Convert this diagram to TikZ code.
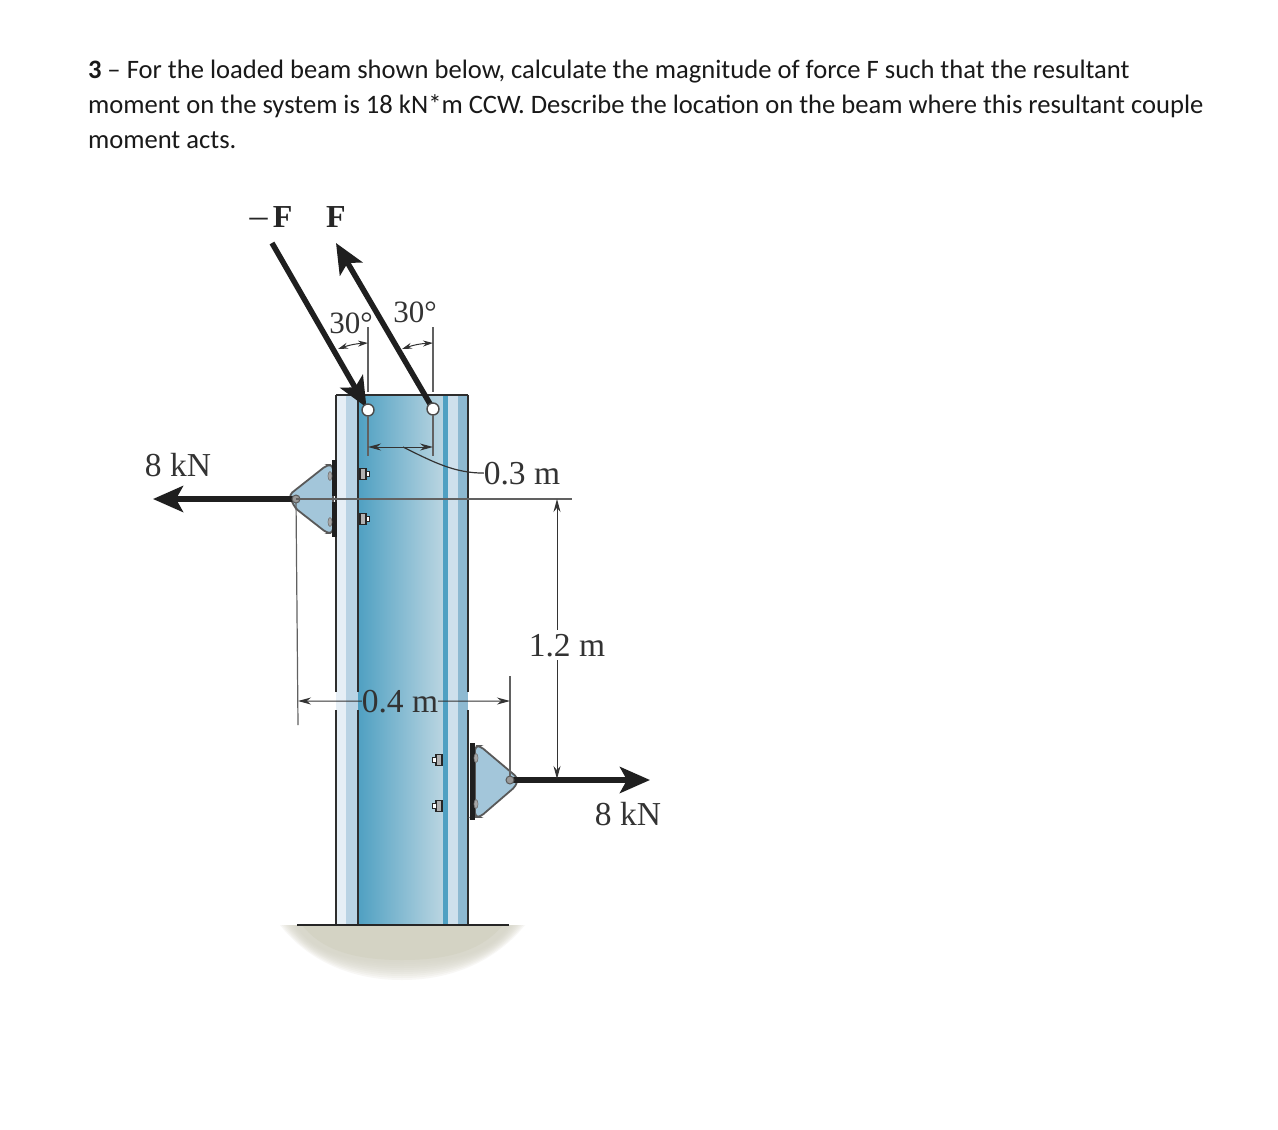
\documentclass[tikz,border=0pt]{standalone}
\usepackage{fontspec}
\setmainfont{Carlito}
\newfontfamily\figfont{Liberation Serif}
\usetikzlibrary{
	positioning,
	shapes.geometric,
	arrows.meta
}
\definecolor{beamdark}{HTML}{4FA0C2}
\definecolor{beamlight}{HTML}{BAD5E1}
\definecolor{flangelight}{HTML}{E6EFF6}
\definecolor{flangemid}{HTML}{B9D3E4}
\definecolor{flangeright}{HTML}{8DB9D1}
\definecolor{lugfill}{HTML}{A3C6DA}
\definecolor{groundfill}{HTML}{D4D3C4}
\definecolor{dimline}{HTML}{333333}
\tikzset{
	x=1pt,
	y=-1pt,
	every node/.append style={
		inner sep=0pt,
		outer sep=0pt
	},
	question/.style={
		anchor=north west,
		align=left,
		text=black!90,
		font=\fontsize{26.6}{35}\selectfont
	},
	dimlabel/.style={
		text=black!80,
		font=\figfont\fontsize{33.5}{35}\selectfont
	},
	anglabel/.style={
		text=black!80,
		font=\figfont\fontsize{31}{31}\selectfont
	},
	forcelabel/.style={
		text=black!85,
		font=\figfont\bfseries\fontsize{32}{32}\selectfont
	},
	force/.style={
		line width=5.5pt,
		black!88,
		-{Stealth[length=30pt,width=26pt,inset=7pt]}
	},
	dim/.style={
		line width=1pt,
		dimline,
		-{Stealth[length=13pt,width=7pt]}
	},
	dimsmall/.style={
		line width=1pt,
		dimline,
		{Stealth[length=10pt,width=6pt]}-{Stealth[length=10pt,width=6pt]}
	},
	witness/.style={
		line width=1.2pt,
		black!62
	},
	outline/.style={
		line width=2.2pt,
		black!82
	},
	lug/.style={
		fill=lugfill,
		draw=black!65,
		line width=1.8pt,
		rounded corners=4pt
	},
	hole/.style={
		circle,
		minimum size=12pt,
		fill=white,
		draw=black!70,
		line width=1.4pt
	},
	pin/.style={
		circle,
		minimum size=8pt,
		fill=black!40,
		draw=black!65,
		line width=1pt
	},
	rivet/.style={
		ellipse,
		minimum width=4pt,
		minimum height=9pt,
		fill=black!35,
		draw=black!55,
		line width=0.6pt
	},
	bolthead/.style={
		rectangle,
		minimum width=6pt,
		minimum height=11pt,
		fill=black!30,
		draw=black!85,
		line width=1.4pt
	},
	bolttip/.style={
		rectangle,
		minimum width=3.5pt,
		minimum height=5pt,
		fill=white,
		draw=black!85,
		line width=1pt
	}
}

\begin{document}
\begin{tikzpicture}
		\useasboundingbox[fill=white] (0,0) rectangle (1278,1130);

		\node[question] (text) at (88,60) {\textbf{3} -- For the loaded beam shown below, calculate the magnitude of force F such that the resultant\\moment on the system is 18 kN*m CCW. Describe the location on the beam where this resultant couple\\moment acts.};

		\foreach \d in {1,0.9,...,0.05}{
			\fill[groundfill,opacity=.16] (298-18*\d,925) .. controls (312-8*\d,950+6*\d) and (345,960+20*\d) .. (402,960+20*\d) .. controls (459,960+20*\d) and (492+8*\d,950+6*\d) .. (507+18*\d,925) -- cycle;
		}
		\fill[groundfill] (302,925) .. controls (320,948) and (350,960) .. (402,960) .. controls (454,960) and (484,948) .. (503,925) -- cycle;

		\fill[flangelight] (336,395) rectangle (346,925);
		\fill[flangemid] (346,395) rectangle (358,925);
		\shade[left color=beamdark,right color=beamlight] (358,395) rectangle (443,925);
		\fill[beamdark] (443,395) rectangle (448,925);
		\fill[flangemid!70!white] (448,395) rectangle (458,925);
		\fill[flangeright] (458,395) rectangle (468,925);

		\draw[outline] (336,395) -- (468,395);
		\draw[outline] (336,395) -- (336,692) (336,710) -- (336,925);
		\draw[outline] (358,395) -- (358,692) (358,710) -- (358,925);
		\draw[outline] (468,395) -- (468,692) (468,710) -- (468,925);
		\draw[line width=2.6pt,black!85] (297,925) -- (509,925);

		\coordinate (lugL) at (296,499);
		\coordinate (lugR) at (510,780);
		\draw[lug] (333,465) -- (327,465) -- (289,495) -- (295,508) -- (327,533) -- (333,533) -- cycle;
		\draw[lug] (475,746) -- (480,746) -- (518,778) -- (516,786) -- (480,817) -- (475,817) -- cycle;
		\fill[black!88] (332,460) rectangle (337,496);
		\fill[black!88] (332,502) rectangle (337,537);
		\fill[black!88] (470,743) rectangle (474.5,820);

		\node[rivet] (rivetA) at (330,476) {};
		\node[rivet] (rivetB) at (330,522) {};
		\node[rivet] (rivetC) at (476,758) {};
		\node[rivet] (rivetD) at (476,804) {};

		\node[bolthead] (boltA) at (363,474) {};
		\node[bolttip,right=0pt of boltA] (tipA) {};
		\node[bolthead] (boltB) at (363,519) {};
		\node[bolttip,right=0pt of boltB] (tipB) {};
		\node[bolthead] (boltC) at (439,760) {};
		\node[bolttip,left=0pt of boltC] (tipC) {};
		\node[bolthead] (boltD) at (439,806) {};
		\node[bolttip,left=0pt of boltD] (tipD) {};

		\coordinate (holeLc) at (368,410);
		\coordinate (holeRc) at (433,409);
		\coordinate (tailL) at (272,243);
		\coordinate (tipF) at (336,243);
		\coordinate (endL) at (153,499);
		\coordinate (endR) at (650,780);

		\draw[force,shorten >=3pt] (tailL) -- (holeLc);
		\draw[force] (holeRc) -- (tipF);
		\draw[force] (lugL) -- (endL);
		\draw[force] (lugR) -- (endR);

		\node[hole] (holeL) at (holeLc) {};
		\node[hole] (holeR) at (holeRc) {};
		\node[pin] (pinL) at (lugL) {};
		\node[pin] (pinR) at (lugR) {};

		\node[forcelabel,anchor=base] (minusF) at (271,227) {{\mdseries\fontsize{36}{36}\selectfont –}\,F};
		\node[forcelabel,anchor=base] (plusF) at (336,227) {F};
		\node[anglabel,anchor=base] (angL) at (351,333) {30\textdegree};
		\node[anglabel,anchor=base] (angR) at (415,322) {30\textdegree};
		\node[dimlabel,anchor=base] (sideL) at (178,476) {8 kN};
		\node[dimlabel,anchor=base] (sideR) at (628,825) {8 kN};
		\node[dimlabel,anchor=base] (gap) at (522,484) {0.3 m};
		\node[dimlabel,anchor=base] (lever) at (567,656) {1.2 m};
		\node[dimlabel,anchor=base] (span) at (400,712) {0.4 m};

		\coordinate (angTopL) at (368,327);
		\coordinate (angBotL) at (368,392);
		\coordinate (angTopR) at (433,327);
		\coordinate (angBotR) at (433,392);
		\coordinate (angArrowL) at (338,349);
		\coordinate (angArrowLb) at (368,343);
		\coordinate (angArrowR) at (402,349);
		\coordinate (angArrowRb) at (433,343);
		\draw[witness] (angTopL) -- (angBotL);
		\draw[witness] (angTopR) -- (angBotR);
		\draw[dimsmall] (angArrowL) to[bend left=8] (angArrowLb);
		\draw[dimsmall] (angArrowR) to[bend left=8] (angArrowRb);

		\coordinate (gapL) at (368,447);
		\coordinate (gapR) at (433,447);
		\coordinate (gapMid) at (403,447);
		\draw[witness] (holeL) -- (368,456);
		\draw[witness] (holeR) -- (433,456);
		\draw[dim,{Stealth[length=13pt,width=7pt]}-{Stealth[length=13pt,width=7pt]}] (gapL) -- (gapR);
		\draw[witness,dimline] (gapMid) .. controls (435,463) and (455,473) .. (gap.west);

		\coordinate (levelL) at (296,499);
		\coordinate (levelR) at (572,499);
		\draw[witness] (levelL) -- (levelR);

		\coordinate (extL) at (298,725);
		\coordinate (extRtop) at (510,676);
		\draw[witness] (pinL) -- (extL);
		\draw[witness] (extRtop) -- (pinR);

		\coordinate (spanL) at (298,701);
		\coordinate (spanR) at (510,701);
		\draw[dim] (span.west) -- (spanL);
		\draw[dim] (span.east) -- (spanR);

		\coordinate (leverTop) at (557,499);
		\coordinate (leverBot) at (557,779);
		\draw[dim] (lever.north -| leverTop) ++(0,-4) -- (leverTop);
		\draw[dim] (lever.south -| leverTop) ++(0,4) -- (leverBot);
	\end{tikzpicture}
\end{document}
